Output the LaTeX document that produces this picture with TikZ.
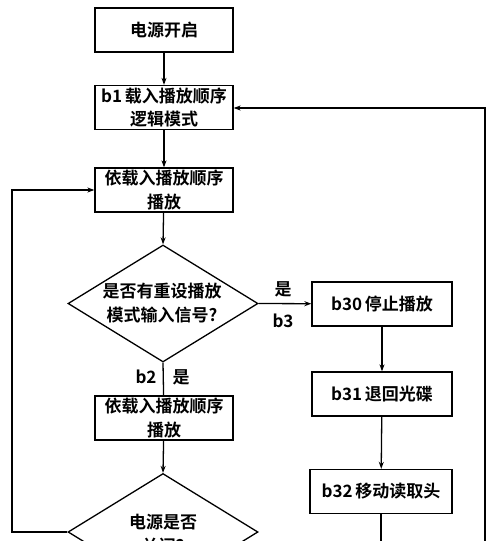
\documentclass[tikz,border=0pt]{standalone}
\usepackage{fontspec}
\newfontfamily\cjk{Noto Sans CJK SC}[BoldFont={Noto Sans CJK SC Bold}]
\usetikzlibrary{shapes.geometric,arrows.meta}
\begin{document}
\begin{tikzpicture}[x=1pt,y=-1pt,
  every node/.style={font=\cjk\bfseries\fontsize{17}{23.5}\selectfont, align=center},
  box/.style={draw, line width=1.3pt, minimum width=138pt, minimum height=44pt, inner sep=2pt},
  dia/.style={draw, diamond, line width=1.3pt, minimum width=190pt, minimum height=117pt, inner sep=0pt},
  conn/.style={line width=1.3pt},
  arr/.style={line width=1.3pt, -{Stealth[length=7pt,width=5pt]}},
  lbl/.style={inner sep=1pt}]
\useasboundingbox (0,0) rectangle (500,541);
\node[box] (start) at (164,30) {电源开启};
\node[box] (b1) at (164,107.5) {b1\,载入播放顺序\\逻辑模式};
\node[box] (play1) at (164,190) {依载入播放顺序\\播放};
\node[dia] (d1) at (163,303.5) {};
\node (d1t) at (162,303) {是否有重设播放\\模式输入信号?};
\node[box] (play2) at (164,418) {依载入播放顺序\\播放};
\node[dia] (d2) at (163,532) {};
\node (d2t) at (163,534) {电源是否\\关闭?};
\node[box, minimum width=140pt] (b30) at (382,304) {b30\,停止播放};
\node[box, minimum width=140pt] (b31) at (382,394) {b31\,退回光碟};
\node[box, minimum width=142pt] (b32) at (381,491.5) {b32\,移动读取头};
\node[lbl] (yes1) at (283,289) {是};
\node[lbl] (lb3) at (283,321) {b3};
\node[lbl] (lb2) at (146,377) {b2};
\node[lbl] (yes2) at (181,377) {是};
\coordinate (lft) at (12,532);
\coordinate (lfttop) at (12,190);
\coordinate (rtop) at (485,108);
\coordinate (rbot) at (485,580);
\coordinate (b32end) at (381,580);
\draw[arr] (start) -- (b1);
\draw[arr] (b1) -- (play1);
\draw[arr] (play1) -- (d1.north);
\draw[conn] (d1.south) -- (play2);
\draw[arr] (play2) -- (d2.north);
\draw[arr] (d1.east) -- (b30);
\draw[arr] (b30) -- (b31);
\draw[arr] (b31) -- (b32);
\draw[conn] (b32) -- (b32end);
\draw[arr] (d2.west) -- (lft) -- (lfttop) -- (play1.west);
\draw[arr] (rbot) -- (rtop) -- (b1.east |- rtop);
\end{tikzpicture}
\end{document}
